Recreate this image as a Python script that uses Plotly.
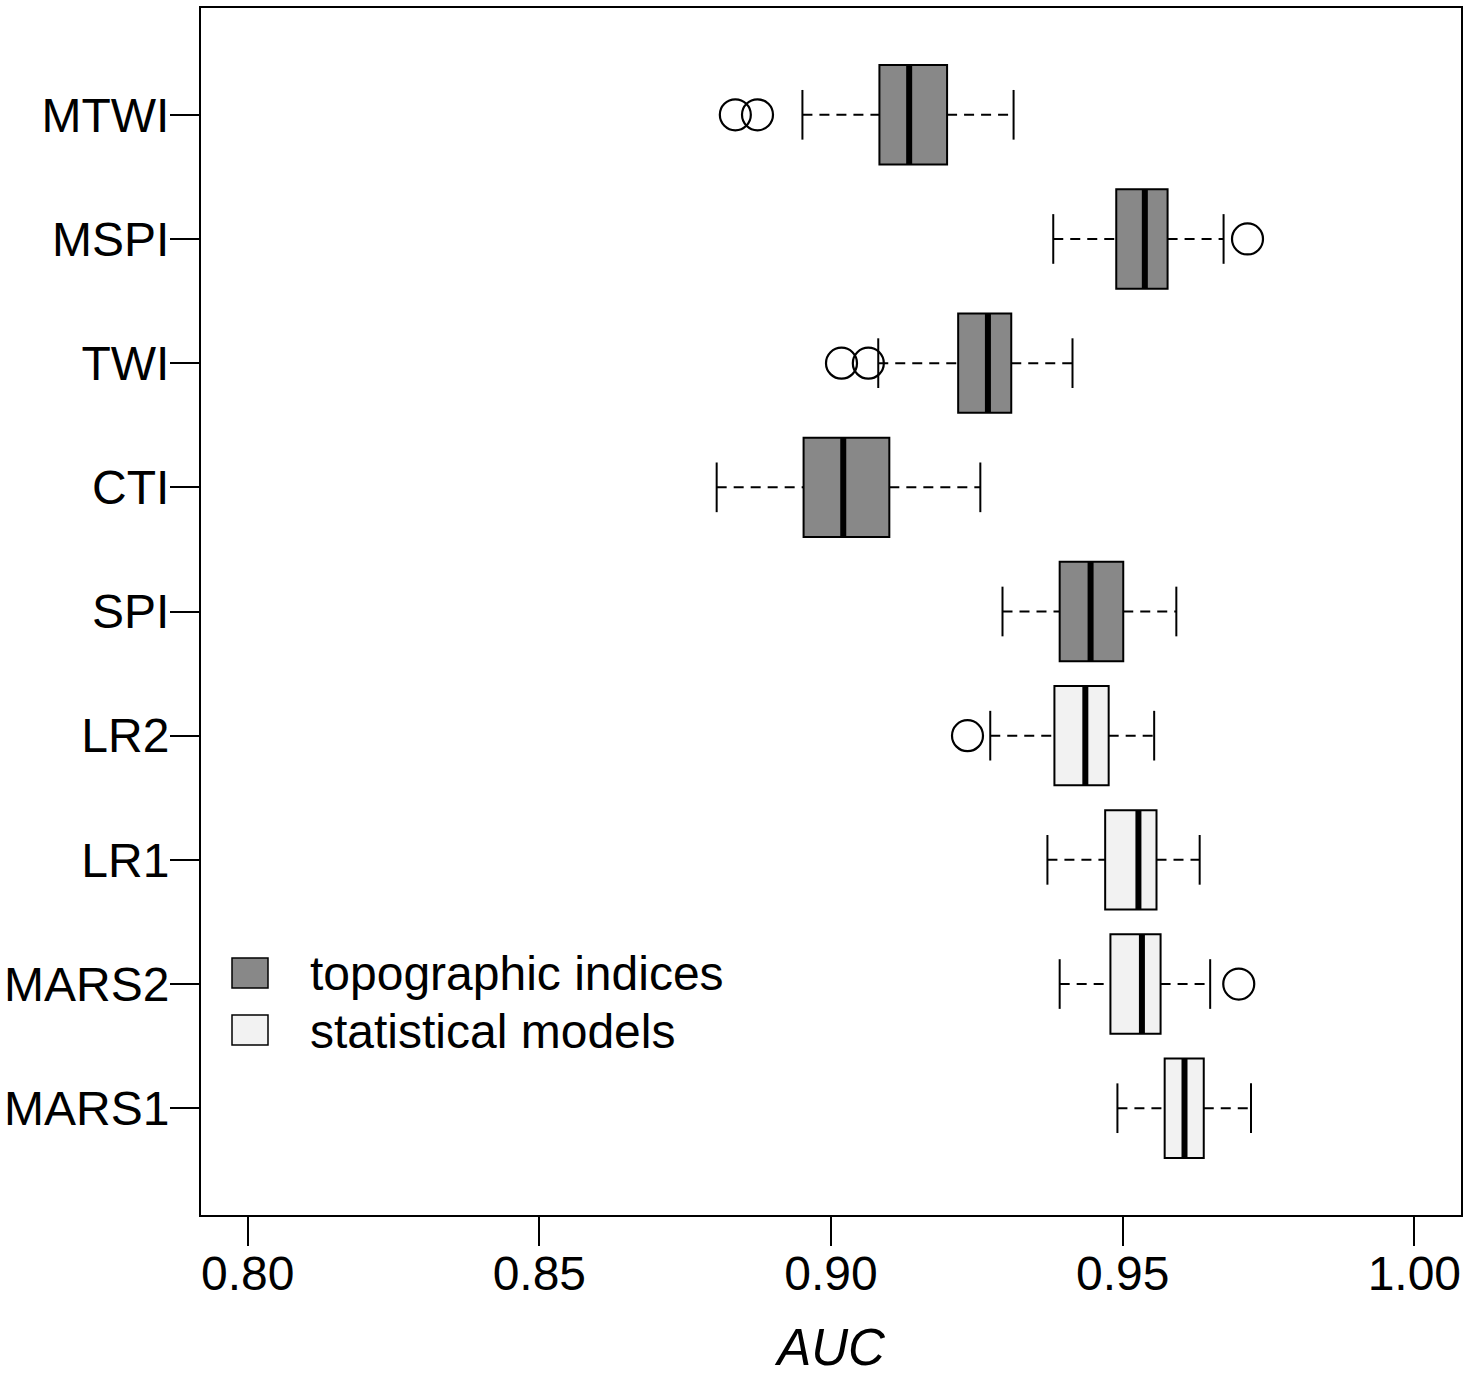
import plotly.graph_objects as go

# AUC distributions per predictor (box-plot summary statistics)
labels = ["MTWI", "MSPI", "TWI", "CTI", "SPI", "LR2", "LR1", "MARS2", "MARS1"]
groups = ["topo", "topo", "topo", "topo", "topo", "stat", "stat", "stat", "stat"]
lower_whisker = [0.8951, 0.9381, 0.9081, 0.8804, 0.9294, 0.9273, 0.9371, 0.9392, 0.9491]
q1 = [0.9083, 0.9489, 0.9218, 0.8953, 0.9392, 0.9383, 0.9470, 0.9479, 0.9572]
median = [0.9134, 0.9538, 0.9269, 0.9021, 0.9445, 0.9436, 0.9527, 0.9533, 0.9606]
q3 = [0.9199, 0.9577, 0.9309, 0.9100, 0.9501, 0.9476, 0.9558, 0.9565, 0.9639]
upper_whisker = [0.9313, 0.9673, 0.9414, 0.9256, 0.9592, 0.9554, 0.9632, 0.9650, 0.9720]
outliers = {
    "MTWI": [0.8836, 0.8874],
    "MSPI": [0.9714],
    "TWI": [0.9018, 0.9064],
    "LR2": [0.9234],
    "MARS2": [0.9699],
}
group_names = {"topo": "topographic indices", "stat": "statistical models"}
group_fill = {"topo": "#888888", "stat": "#f2f2f2"}
x_ticks = [0.80, 0.85, 0.90, 0.95, 1.00]

FONT = "Liberation Sans, Arial, Helvetica, sans-serif"
FS = 48
BOX_HALF = 0.4
CAP_HALF = 0.2

fig = go.Figure()
shapes = []

for i, name in enumerate(labels):
    y = i + 1
    fill = group_fill[groups[i]]
    # dashed whiskers
    for a, b in ((lower_whisker[i], q1[i]), (q3[i], upper_whisker[i])):
        shapes.append(dict(type="line", xref="x", yref="y", x0=a, x1=b, y0=y, y1=y,
                           line=dict(color="black", width=2, dash="10px,7px"), layer="above"))
    # whisker caps
    for v in (lower_whisker[i], upper_whisker[i]):
        shapes.append(dict(type="line", xref="x", yref="y", x0=v, x1=v,
                           y0=y - CAP_HALF, y1=y + CAP_HALF,
                           line=dict(color="black", width=2), layer="above"))
    # box
    shapes.append(dict(type="rect", xref="x", yref="y", x0=q1[i], x1=q3[i],
                       y0=y - BOX_HALF, y1=y + BOX_HALF, fillcolor=fill,
                       line=dict(color="black", width=2), layer="above"))
    # median
    shapes.append(dict(type="line", xref="x", yref="y", x0=median[i], x1=median[i],
                       y0=y - BOX_HALF, y1=y + BOX_HALF,
                       line=dict(color="black", width=6), layer="above"))

# outlying values as open circles
ox, oy = [], []
for name, vals in outliers.items():
    for v in vals:
        ox.append(v)
        oy.append(labels.index(name) + 1)
fig.add_trace(go.Scatter(x=ox, y=oy, mode="markers", showlegend=False,
                         marker=dict(symbol="circle-open", size=31, color="black",
                                     line=dict(width=2.2)),
                         hoverinfo="x"))

# legend drawn in paper coordinates
W, H = 1477, 1376
ML, MR, MT, MB = 201, 16, 8, 161
PW, PH = W - ML - MR, H - MT - MB


def px(x):
    return (x - ML) / PW


def py(y):
    return 1 - (y - MT) / PH


shapes.append(dict(type="rect", xref="paper", yref="paper", x0=px(203), x1=px(746),
                   y0=py(1088), y1=py(915), fillcolor="white", line=dict(width=0),
                   layer="above"))
annotations = []
for k, (g, yc) in enumerate((("topo", 973), ("stat", 1030))):
    shapes.append(dict(type="rect", xref="paper", yref="paper", x0=px(232), x1=px(268),
                       y0=py(yc + 15), y1=py(yc - 15), fillcolor=group_fill[g],
                       line=dict(color="black", width=1.5), layer="above"))
    annotations.append(dict(xref="paper", yref="paper", x=px(308), y=py(yc + 1),
                            text=group_names[g], showarrow=False, xanchor="left",
                            yanchor="middle", font=dict(family=FONT, size=FS, color="black")))

fig.update_layout(
    width=W, height=H,
    margin=dict(l=ML, r=MR, t=MT, b=MB),
    paper_bgcolor="white", plot_bgcolor="white",
    shapes=shapes, annotations=annotations,
    font=dict(family=FONT, color="black"),
    xaxis=dict(range=[0.792, 1.008], tickvals=x_ticks,
               ticktext=[f"{v:.2f}" for v in x_ticks],
               ticks="outside", ticklen=29, tickwidth=2, tickcolor="black",
               showline=True, linecolor="black", linewidth=2, mirror=True,
               showgrid=False, zeroline=False, automargin=False,
               ticklabelstandoff=-14,
               tickfont=dict(family=FONT, size=FS, color="black"),
               title=dict(text="<i>AUC</i>", standoff=32,
                          font=dict(family=FONT, size=51, color="black"))),
    yaxis=dict(range=[9.86, 0.14], tickvals=list(range(1, len(labels) + 1)),
               ticktext=labels, ticks="outside", ticklen=29, tickwidth=2,
               tickcolor="black", showline=True, linecolor="black", linewidth=2,
               mirror=True, showgrid=False, zeroline=False, automargin=False,
               ticklabelstandoff=-9,
               tickfont=dict(family=FONT, size=FS, color="black")),
)

fig.write_html("out.html")
